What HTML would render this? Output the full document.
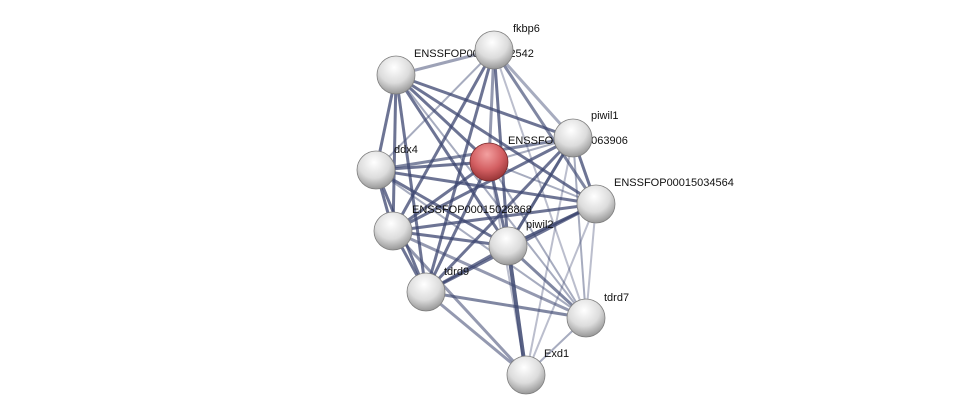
<!DOCTYPE html>
<html><head><meta charset="utf-8"><style>
html,body{margin:0;padding:0;background:#fff;width:976px;height:420px;overflow:hidden}
text{font-family:"Liberation Sans",sans-serif;font-size:11px;fill:#111}
</style></head><body>
<svg id="s" width="976" height="420" xmlns="http://www.w3.org/2000/svg">
<defs>
<radialGradient id="g" cx="0.45" cy="0.3" r="0.75">
<stop offset="0" stop-color="#ffffff"/><stop offset="0.55" stop-color="#dcdcdc"/><stop offset="1" stop-color="#8c8c8c"/></radialGradient>
<radialGradient id="r" cx="0.45" cy="0.3" r="0.75">
<stop offset="0" stop-color="#f3a0a0"/><stop offset="0.55" stop-color="#d35f62"/><stop offset="1" stop-color="#8e2e30"/></radialGradient>
</defs>
<g id="e"></g>
<g id="l">
<text x="513" y="32">fkbp6</text>
<text x="414" y="57">ENSSFOP00015042542</text>
<text x="591" y="119">piwil1</text>
<text x="508" y="144">ENSSFOP00015063906</text>
<text x="394" y="153">ddx4</text>
<text x="614" y="186">ENSSFOP00015034564</text>
<text x="412" y="213">ENSSFOP00015028868</text>
<text x="526" y="228">piwil2</text>
<text x="444" y="275">tdrd9</text>
<text x="604" y="301">tdrd7</text>
<text x="544" y="357">Exd1</text>
</g>
<g id="n"></g>
</svg>
<script>
var N={a:[396,75],f:[494,50],p1:[573,138],c:[489,162],d:[376,170],e34:[596,204],e28:[393,231],p2:[508,246],t9:[426,292],t7:[586,318],x:[526,375]};
var E=[["a","f",3,.5],["a","p1",3,.75],["a","c",3,.75],["a","d",3,.75],["a","e34",3,.75],["a","e28",3,.75],["a","p2",3,.75],["a","t9",3,.75],["a","t7",2,.45],
["f","p1",3,.45],["f","c",3,.55],["f","d",2,.45],["f","e34",3,.65],["f","e28",3,.75],["f","p2",3,.75],["f","t9",3,.75],["f","t7",2,.35],
["p1","c",2,.45],["p1","d",3,.65],["p1","e34",3,.75],["p1","e28",3,.75],["p1","p2",3,.85],["p1","t9",3,.75],["p1","t7",2,.45],["p1","x",2,.35],
["c","d",3,.75],["c","e34",2,.45],["c","e28",3,.75],["c","p2",3,.75],["c","t9",3,.75],["c","t7",2,.45],["c","x",2,.35],
["d","e34",3,.75],["d","e28",3,.75],["d","p2",3,.75],["d","t9",3,.75],["d","t7",2,.45],
["e34","e28",3,.75],["e34","p2",3,.85],["e34","t9",3,.75],["e34","t7",2,.35],["e34","x",2,.35],
["e28","p2",3,.75],["e28","t9",3,.75],["e28","t7",3,.55],["e28","x",3,.55],
["p2","t9",3,.75],["p2","t7",3,.65],["p2","x",4,.85],["t9","t7",3,.65],["t9","x",3,.55],["t7","x",2,.45]];
var ns="http://www.w3.org/2000/svg",g=document.getElementById("e");
E.forEach(function(q){var a=N[q[0]],b=N[q[1]],l=document.createElementNS(ns,"line");
l.setAttribute("x1",a[0]);l.setAttribute("y1",a[1]);l.setAttribute("x2",b[0]);l.setAttribute("y2",b[1]);
l.setAttribute("stroke","#3c4670");l.setAttribute("stroke-width",q[2]);l.setAttribute("stroke-opacity",q[3]);g.appendChild(l);});
var n=document.getElementById("n");
for(var k in N){var c=document.createElementNS(ns,"circle");c.setAttribute("cx",N[k][0]);c.setAttribute("cy",N[k][1]);c.setAttribute("r",19);
c.setAttribute("fill",k=="c"?"url(#r)":"url(#g)");c.setAttribute("stroke",k=="c"?"#7a2a2c":"#7f7f7f");c.setAttribute("stroke-width",0.8);n.appendChild(c);}
</script>
</body></html>
